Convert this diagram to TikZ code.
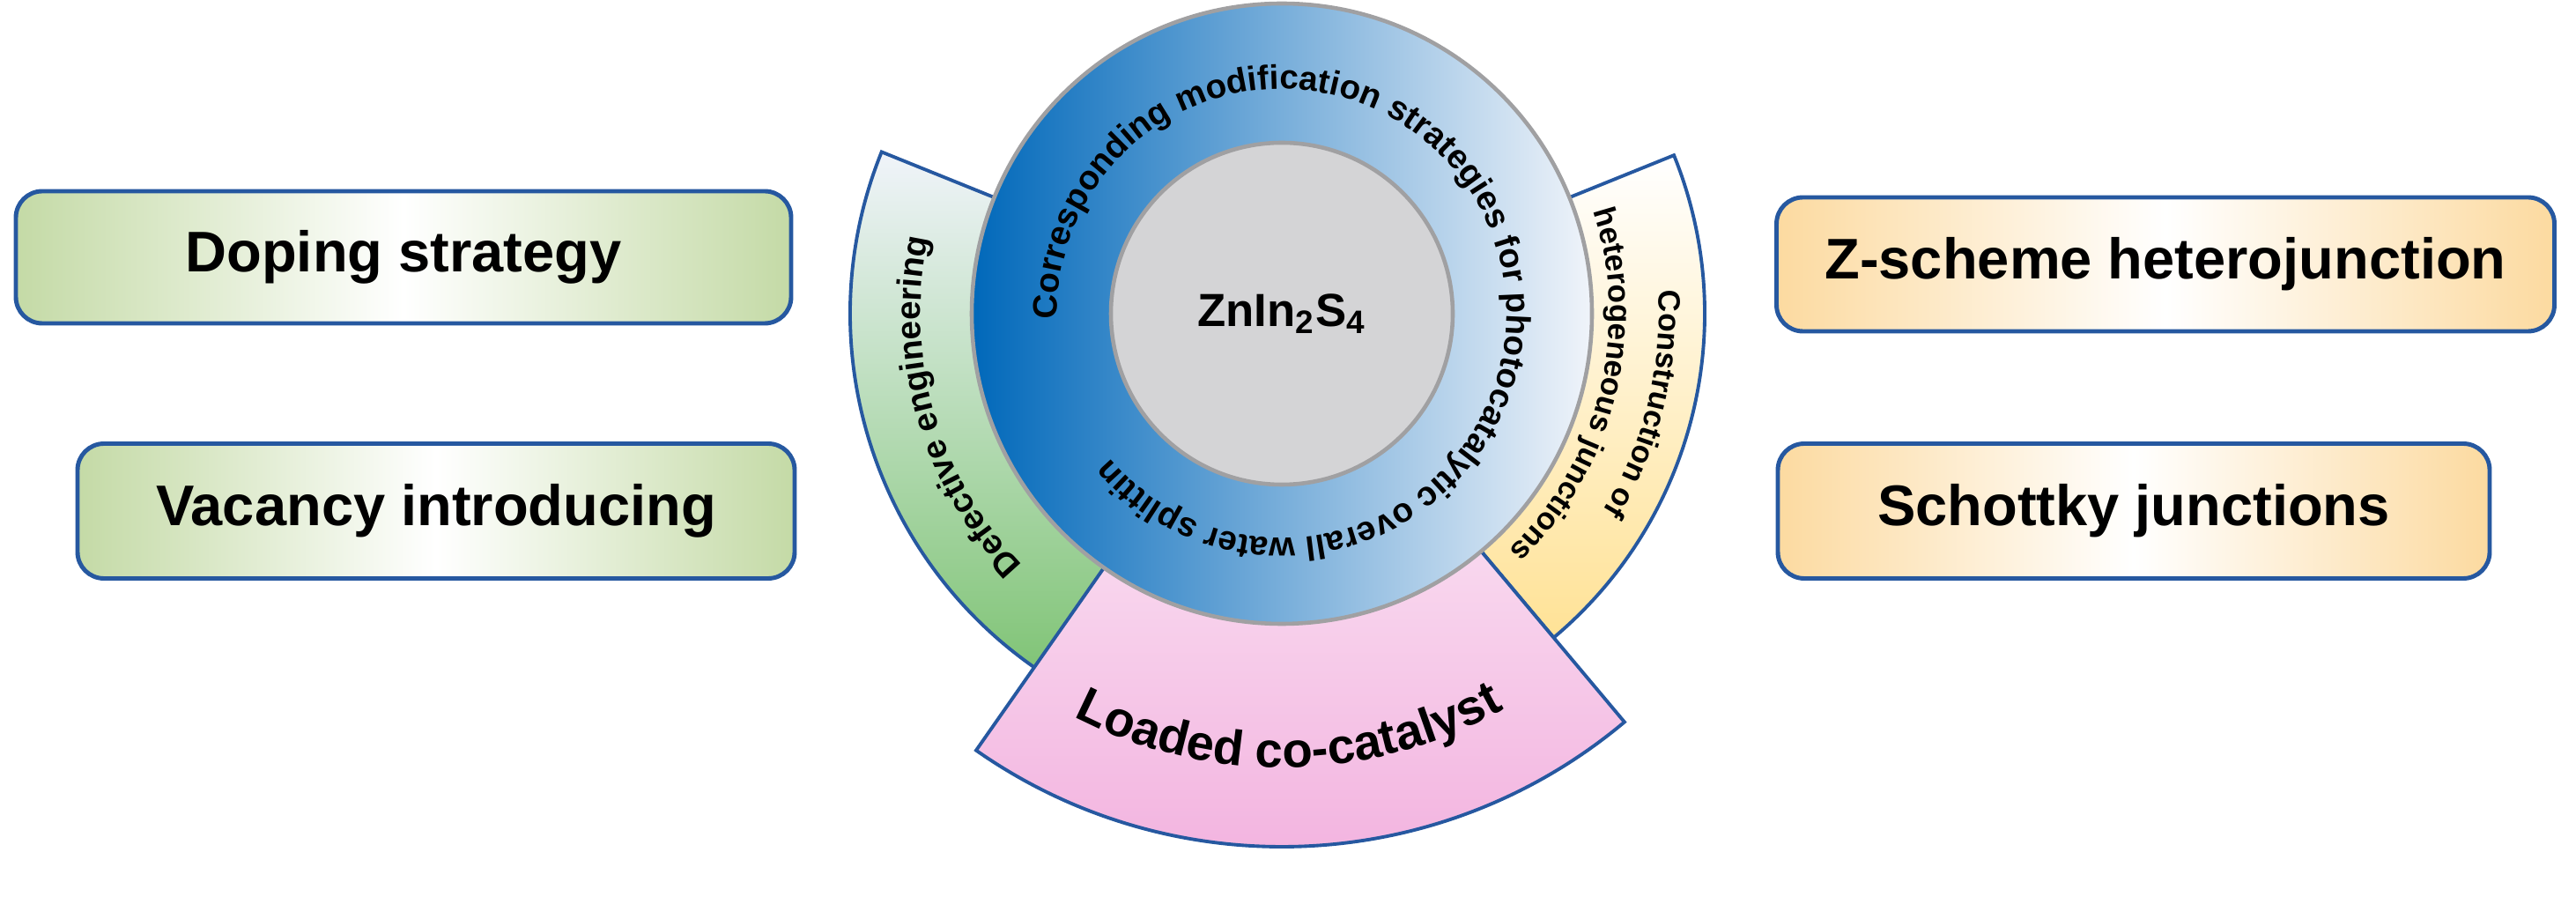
\documentclass[tikz,border=0pt]{standalone}
\usepackage{fontspec}
\setmainfont{Liberation Sans}
\usetikzlibrary{positioning,calc,decorations.text}

\definecolor{boxblue}{RGB}{38,88,160}
\definecolor{boxgreen}{RGB}{196,218,166}
\definecolor{boxorange}{RGB}{252,218,160}
\definecolor{ringdark}{RGB}{0,104,186}
\definecolor{ringmid}{RGB}{40,160,218}
\definecolor{ringlight}{RGB}{240,244,250}
\definecolor{ringgray}{RGB}{160,160,162}
\definecolor{coregray}{RGB}{212,212,214}
\definecolor{sectgreen}{RGB}{128,196,118}
\definecolor{sectyellow}{RGB}{255,226,150}
\definecolor{sectpink}{RGB}{242,176,222}

\tikzset{
  box/.style={rounded corners=0.3cm, draw=boxblue, line width=1.4pt,
              font=\fontsize{18.5}{20}\selectfont\bfseries},
  greenbox/.style={box, left color=boxgreen, right color=boxgreen, middle color=white},
  orangebox/.style={box, left color=boxorange, right color=boxorange, middle color=white},
  sector/.style={draw=boxblue, line width=1.1pt},
  arctext/.style 2 args={decorate, decoration={text along path, text align=center,
              text={|\fontsize{#1}{#1}\selectfont\bfseries|#2}}}
}

\begin{document}
\begin{tikzpicture}
  \useasboundingbox (0,0) rectangle (29.24,10.42);
  \coordinate (C) at (14.55,6.86);

  % side strategy boxes
  \node (doping) at (4.58,7.50) [greenbox, minimum width=8.8cm, minimum height=1.5cm] {Doping strategy};
  \node (vacancy) at (4.95,4.62) [greenbox, minimum width=8.14cm, minimum height=1.53cm] {Vacancy introducing};
  \node (zscheme) at (24.58,7.42) [orangebox, minimum width=8.83cm, minimum height=1.52cm] {Z-scheme heterojunction};
  \node (schottky) at (24.22,4.62) [orangebox, minimum width=8.08cm, minimum height=1.53cm] {Schottky junctions};

  % sectors around the ring
  \draw[sector, top color=ringlight, bottom color=sectgreen]
    ($(C)+(158:3.4)$) -- ($(C)+(158:4.9)$) arc[start angle=158, end angle=236, radius=4.9]
    -- ($(C)+(236:3.4)$) -- cycle;
  \draw[sector, top color=white, bottom color=sectyellow]
    ($(C)+(22:3.4)$) -- ($(C)+(22:4.8)$) arc[start angle=22, end angle=-50, radius=4.8]
    -- ($(C)+(-50:3.4)$) -- cycle;
  \draw[sector, top color=sectpink!45, bottom color=sectpink]
    ($(C)+(235:3.0)$) -- ($(C)+(235:6.05)$) arc[start angle=235, end angle=310, radius=6.05]
    -- ($(C)+(310:3.0)$) -- cycle;

  \path[arctext={11}{Defective engineering}]
    ($(C)+(232:4.1)$) arc[start angle=232, end angle=160, radius=4.1];
  \path[arctext={10}{Construction of}]
    ($(C)+(20:4.28)$) arc[start angle=20, end angle=-48, radius=4.28];
  \path[arctext={10}{heterogeneous junctions}]
    ($(C)+(20:3.72)$) arc[start angle=20, end angle=-48, radius=3.72];
  \path[arctext={16}{Loaded co-catalyst}]
    ($(C)+(236:5.15)$) arc[start angle=236, end angle=306, radius=5.15];

  % central ring and core
  \node (ring) at (C) [circle, minimum size=7.04cm, draw=ringgray, line width=1.3pt,
        left color=ringdark, middle color=ringmid, right color=ringlight] {};
  \node (core) at (C) [circle, minimum size=3.88cm, fill=coregray, draw=ringgray, line width=1.3pt,
        font=\fontsize{15}{18}\selectfont\bfseries] {ZnIn\textsubscript{2}S\textsubscript{4}};
  \path[arctext={11}{Corresponding modification strategies for photocatalytic overall water splitting}]
    ($(C)+(176:2.55)$) arc[start angle=176, end angle=-140, radius=2.55];

\end{tikzpicture}
\end{document}
